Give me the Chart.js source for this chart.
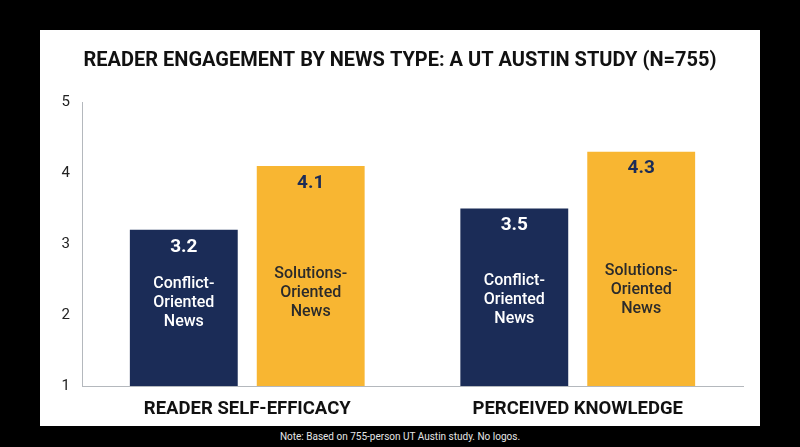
<!DOCTYPE html>
<html lang="en">
<head>
  <meta charset="UTF-8">
  <title>Reader Engagement by News Type</title>
  <script src="https://cdn.jsdelivr.net/npm/chart.js"></script>
  <style>
    body {
      margin: 0;
      width: 800px;
      height: 447px;
      background: #000;
      font-family: 'Roboto', sans-serif;
      overflow: hidden;
      position: relative;
    }

    .panel {
      position: absolute;
      left: 40px;
      top: 30px;
      width: 720px;
      height: 396px;
      background: #fff;
    }

    .note {
      position: absolute;
      left: 0;
      top: 431px;
      width: 800px;
      text-align: center;
      color: #e6e6e6;
      font-size: 10px;
    }
  </style>
</head>
<body>
  <div class="panel">
    <canvas id="engagementChart" width="720" height="396"></canvas>
  </div>
  <div class="note">Note: Based on 755-person UT Austin study. No logos.</div>

  <script>
    const chartTitle = 'READER ENGAGEMENT BY NEWS TYPE: A UT AUSTIN STUDY (N=755)';
    const categories = ['READER SELF-EFFICACY', 'PERCEIVED KNOWLEDGE'];
    const seriesNames = ['Conflict-Oriented News', 'Solutions-Oriented News'];
    const seriesLines = [['Conflict-', 'Oriented', 'News'], ['Solutions-', 'Oriented', 'News']];
    const conflictValues = [3.2, 3.5];
    const solutionsValues = [4.1, 4.3];
    const yTicks = [1, 2, 3, 4, 5];

    const navy = '#1b2c57';
    const gold = '#f8b632';

    // title + the value / series text printed inside each bar
    const barText = {
      id: 'barText',
      afterDatasetsDraw(chart) {
        const c = chart.ctx;
        c.save();
        c.textAlign = 'center';
        c.textBaseline = 'middle';
        c.fillStyle = '#111';
        c.font = 'bold 20px Roboto';
        c.fillText(chartTitle, chart.width / 2, 31);

        chart.data.datasets.forEach((ds, di) => {
          const meta = chart.getDatasetMeta(di);
          meta.data.forEach((bar, i) => {
            const top = bar.y;
            const base = bar.base;
            const h = base - top;
            c.fillStyle = di === 0 ? '#fff' : navy;
            c.font = 'bold 19px Roboto';
            c.fillText(ds.data[i].toFixed(1), bar.x, top + 17);

            c.fillStyle = di === 0 ? '#fff' : '#2b2b2b';
            c.font = '500 16px Roboto';
            const mid = base - 56 - 0.17 * h;
            seriesLines[di].forEach((line, li) => {
              c.fillText(line, bar.x, mid + (li - 1) * 19);
            });
          });
        });
        c.restore();
      }
    };

    new Chart(document.getElementById('engagementChart'), {
      type: 'bar',
      data: {
        labels: categories,
        datasets: [
          {
            label: seriesNames[0],
            data: conflictValues,
            backgroundColor: navy,
            base: 1,
          },
          {
            label: seriesNames[1],
            data: solutionsValues,
            backgroundColor: gold,
            base: 1,
          },
        ],
      },
      options: {
        responsive: false,
        animation: false,
        categoryPercentage: 0.768,
        barPercentage: 0.85,
        layout: {
          padding: { top: 72, right: 17, bottom: 0, left: 0 },
        },
        plugins: {
          legend: { display: false },
          title: { display: false },
          tooltip: { enabled: false },
        },
        scales: {
          x: {
            grid: { display: false, drawTicks: false },
            border: { display: true, color: '#b4b8bd', width: 1 },
            ticks: {
              color: '#111',
              padding: 12,
              font: { family: 'Roboto', size: 18.5, weight: 'bold' },
            },
            afterFit(scale) { scale.height = 40; },
          },
          y: {
            min: 1,
            max: 5,
            afterBuildTicks(scale) { scale.ticks = yTicks.map(v => ({ value: v })); },
            grid: { display: false, drawTicks: false },
            border: { display: true, color: '#b4b8bd', width: 1 },
            ticks: {
              color: '#222',
              padding: 12,
              font: { family: 'Roboto', size: 15 },
            },
            afterFit(scale) { scale.width = 42; },
          },
        },
      },
      plugins: [barText],
    });
  </script>
</body>
</html>
